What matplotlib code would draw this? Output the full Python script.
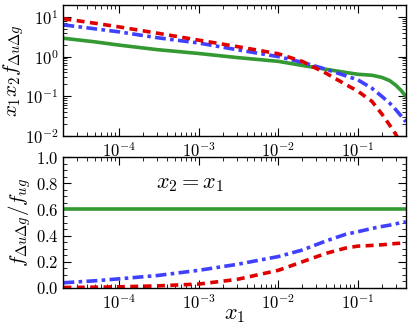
import numpy as np
import matplotlib
matplotlib.use('Agg')
from matplotlib import pyplot as plt
from matplotlib.ticker import MultipleLocator, LogLocator, NullFormatter

plt.rcParams['font.family'] = ['cmr10', 'DejaVu Serif']
plt.rcParams['mathtext.fontset'] = 'cm'
plt.rcParams['axes.formatter.use_mathtext'] = True

x1 = [2e-5, 5e-5, 1e-4, 3e-4, 1e-3, 3e-3, 1e-2, 2e-2, 4e-2, 7e-2,
      0.1, 0.15, 0.2, 0.25, 0.3, 0.35, 0.4]

# top panel: x1 x2 f_{du dg}
top_red = [9.0, 6.9, 5.6, 3.9, 2.6, 1.8, 1.18, 0.76, 0.38, 0.2,
           0.135, 0.075, 0.036, 0.019, 0.011, 0.006, 0.003]
top_blue = [6.3, 5.0, 4.2, 3.0, 2.2, 1.5, 1.0, 0.72, 0.48, 0.33,
            0.26, 0.16, 0.10, 0.068, 0.046, 0.032, 0.023]
top_green = [2.9, 2.35, 1.95, 1.5, 1.2, 0.95, 0.76, 0.60, 0.48, 0.40,
             0.36, 0.34, 0.30, 0.25, 0.19, 0.14, 0.10]

# bottom panel: ratio
bot_red = [0.004, 0.006, 0.009, 0.016, 0.03, 0.065, 0.135, 0.20, 0.265, 0.305,
           0.32, 0.325, 0.33, 0.335, 0.34, 0.342, 0.345]
bot_blue = [0.04, 0.055, 0.07, 0.095, 0.135, 0.18, 0.24, 0.29, 0.36, 0.41,
            0.43, 0.455, 0.47, 0.48, 0.49, 0.50, 0.505]
bot_green = [0.6] * len(x1)

red = '#e00000'
blue = '#4040ff'
green = '#339933'
lw = 2.6

fig = plt.figure(figsize=(4.12, 3.28), dpi=100)
ax1 = fig.add_axes([0.154, 0.585, 0.831, 0.40])
ax2 = fig.add_axes([0.154, 0.122, 0.831, 0.399])

ax1.plot(x1, top_green, color=green, lw=lw, ls='-')
ax1.plot(x1, top_blue, color=blue, lw=lw, ls=(0, (3, 1.2, 1, 1.2)))
ax1.plot(x1, top_red, color=red, lw=lw, ls=(0, (2.2, 1.5)))
ax1.set_xscale('log')
ax1.set_yscale('log')
ax1.set_xlim(2e-5, 0.4)
ax1.set_ylim(1e-2, 20)
ax1.set_ylabel(r'$x_1x_2f_{\Delta u\Delta g}$', fontsize=15)
ax1.yaxis.set_label_coords(-0.108, 0.5)

ax2.plot(x1, bot_green, color=green, lw=lw, ls='-')
ax2.plot(x1, bot_blue, color=blue, lw=lw, ls=(0, (3, 1.2, 1, 1.2)))
ax2.plot(x1, bot_red, color=red, lw=lw, ls=(0, (2.2, 1.5)))
ax2.set_xscale('log')
ax2.set_xlim(2e-5, 0.4)
ax2.set_ylim(0, 1)
ax2.yaxis.set_major_locator(MultipleLocator(0.2))
ax2.yaxis.set_minor_locator(MultipleLocator(0.05))
ax2.set_ylabel(r'$f_{\Delta u\Delta g}/f_{ug}$', fontsize=15)
ax2.yaxis.set_label_coords(-0.09, 0.5)
ax2.set_xlabel(r'$x_1$', fontsize=16)
ax2.xaxis.set_label_coords(0.5, -0.13)
ax2.text(0.27, 0.79, r'$x_2 = x_1$', transform=ax2.transAxes, fontsize=16,
         va='center', ha='left')

for ax in (ax1, ax2):
    ax.xaxis.set_major_locator(LogLocator(base=10, numticks=10))
    ax.xaxis.set_minor_locator(LogLocator(base=10, subs=np.arange(2, 10), numticks=10))
    ax.xaxis.set_minor_formatter(NullFormatter())
    ax.tick_params(which='both', direction='in', top=True, right=True, labelsize=12)
    ax.tick_params(which='major', length=6, width=0.8)
    ax.tick_params(which='minor', length=3, width=0.6)
    for s in ax.spines.values():
        s.set_linewidth(1.0)

ax1.yaxis.set_minor_locator(LogLocator(base=10, subs=np.arange(2, 10), numticks=10))
ax1.yaxis.set_minor_formatter(NullFormatter())

fig.savefig('out.png', dpi=100)
